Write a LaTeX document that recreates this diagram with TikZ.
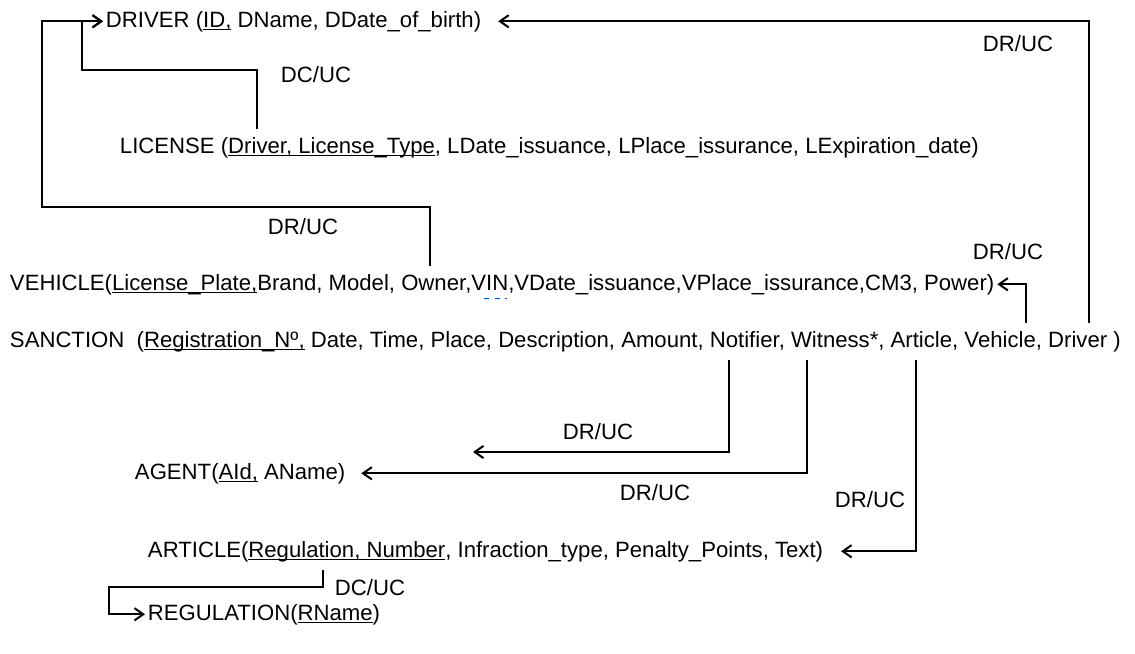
\documentclass[tikz,border=0pt]{standalone}
\usepackage{fontspec}
\setmainfont{Liberation Sans}
\usetikzlibrary{arrows.meta}
\usetikzlibrary{calc}

\newsavebox{\pkbox}
\newcommand{\pk}[1]{\sbox{\pkbox}{#1}\rlap{\rule[-1.9pt]{\wd\pkbox}{0.55pt}}\usebox{\pkbox}}

\begin{document}
\begin{tikzpicture}[x=0.02cm,y=-0.02cm,
    rel/.style={anchor=base west, inner xsep=1.5pt, inner ysep=4.5pt, font=\fontsize{12.6}{15}\selectfont},
    lbl/.style={anchor=base, inner sep=0pt, font=\fontsize{12.6}{15}\selectfont},
    fk/.style={line width=1.15pt, -{Straight Barb[length=5pt,width=7pt]}}]

        \useasboundingbox (0,0) rectangle (1135,653);

        % Relations
        \node[rel] (driver) at (103,27) {DRIVER (\pk{ID,} DName, DDate\_of\_birth)};
        \node[rel] (license) at (117,153) {LICENSE (\pk{Driver, License\_Type}, LDate\_issuance, LPlace\_issurance, LExpiration\_date)};
        \node[rel] (vehicle) at (7,290) {VEHICLE(\pk{License\_Plate,}Brand, Model, Owner,VIN,VDate\_issuance,VPlace\_issurance,CM3, Power)};
        \node[rel] (sanction) at (7,347) {SANCTION\ \ (\pk{Registration\_Nº,} Date, Time, Place, Description, Amount, Notifier, Witness*, Article, Vehicle, Driver )};
        \node[rel] (agent) at (132,479) {AGENT(\pk{AId,} AName)};
        \node[rel] (article) at (145,557) {ARTICLE(\pk{Regulation, Number}, Infraction\_type, Penalty\_Points, Text)};
        \node[rel] (regulation) at (145,620) {REGULATION(\pk{RName})};

        % Attribute columns
        \foreach \name/\x in {lic/257, own/430, ntf/729, wit/807, art/916, veh/1026, drv/1089, reg/323}
        {
          \coordinate (\name) at (\x,0);
        }
        \coordinate (ntfend) at (473,452);

        % Foreign keys
        \draw[fk] (sanction.north -| drv) |- ($(driver.east)+(14,0)$);
        \draw[fk] (license.north -| lic) |- (82,70) |- (driver.west);
        \draw[fk] (vehicle.north -| own) |- (42,207) |- (driver.west);
        \draw[fk] (sanction.north -| veh) |- (vehicle.east);
        \draw[fk] (sanction.south -| ntf) |- (ntfend);
        \draw[fk] (sanction.south -| wit) |- ($(agent.east)+(13,0)$);
        \draw[fk] (sanction.south -| art) |- ($(article.east)+(15,0)$);
        \draw[fk] (article.south -| reg) |- (109,587) |- (regulation.west);

        % spell check mark
        \draw[blue!70!cyan, dashed, thin] (484,298) -- (507,298);

        % Labels
        \node[lbl] (lbldrv) at (1018,51) {DR/UC};
        \node[lbl] (lbllic) at (316,82) {DC/UC};
        \node[lbl] (lblown) at (303,234) {DR/UC};
        \node[lbl] (lblveh) at (1008,259) {DR/UC};
        \node[lbl] (lblntf) at (598,439) {DR/UC};
        \node[lbl] (lblwit) at (655,500) {DR/UC};
        \node[lbl] (lblart) at (870,507) {DR/UC};
        \node[lbl] (lblreg) at (370,595) {DC/UC};
    \end{tikzpicture}
\end{document}
